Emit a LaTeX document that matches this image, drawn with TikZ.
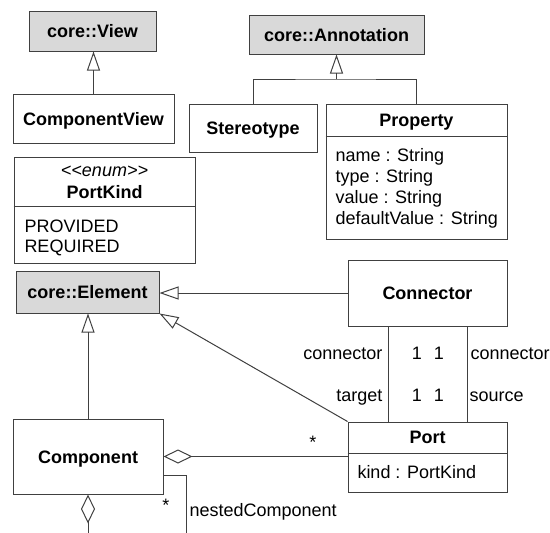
\documentclass[tikz,border=0pt]{standalone}
\usepackage{fontspec}
\setmainfont{Liberation Sans}
\usetikzlibrary{arrows.meta}
\definecolor{coregray}{HTML}{D9D9D9}
\definecolor{linegray}{HTML}{404040}
\newcommand{\umlfont}{\fontsize{18}{21.3}\selectfont}
\tikzset{
	cls/.style={draw=linegray, line width=1pt, fill=white, inner sep=0pt,
		font=\umlfont\bfseries, text height=13pt, text depth=0pt},
	corecls/.style={cls, fill=coregray},
	gen/.style={-{Triangle[open, length=19pt, width=13pt]}},
	agg/.style={{Diamond[open, length=29pt, width=14pt]}-},
	txt/.style={inner sep=0pt, anchor=base, font=\umlfont},
}
\begin{document}
\begin{tikzpicture}[x=1pt, y=-1pt, line width=1pt, draw=linegray, font=\umlfont]
	\useasboundingbox (0,0) rectangle (550,533);
	% Core classes
	\node[corecls, minimum width=127pt, minimum height=40pt] (view) at (92.5,31) {core::View};
	\node[corecls, minimum width=175pt, minimum height=39pt] (annot) at (336.5,34.5) {core::Annotation};
	\node[corecls, minimum width=143pt, minimum height=42pt] (elem) at (87.5,292) {core::Element};
	% Classes
	\node[cls, minimum width=161pt, minimum height=49pt] (cview) at (93.5,118.5) {ComponentView};
	\node[cls, minimum width=128pt, minimum height=48pt] (stereo) at (253,128) {Stereotype};
	\node[cls, minimum width=181pt, minimum height=135pt] (prop) at (416.5,171.5) {};
	\node[cls, minimum width=181pt, minimum height=106pt] (kind) at (104.5,210) {};
	\node[cls, minimum width=159pt, minimum height=66pt] (conn) at (427.5,293) {Connector};
	\node[cls, minimum width=159pt, minimum height=70pt] (port) at (427.5,457) {};
	\node[cls, minimum width=150pt, minimum height=75pt] (comp) at (88,456.5) {Component};
	% Compartments
	\draw (prop.west |- 0,136) -- (prop.east |- 0,136);
	\draw (kind.west |- 0,206) -- (kind.east |- 0,206);
	\draw (port.west |- 0,453) -- (port.east |- 0,453);
	\node[txt, font=\umlfont\bfseries] (proptitle) at (416.5,126.5) {Property};
	\foreach \attr [count=\i] in {name : String, type : String, value : String, defaultValue : String}
		\node[txt, anchor=base west] (propattr\i) at (335,161+21.3*\i-21.3) {\attr};
	\node[txt, font=\umlfont\itshape] (kindstereo) at (104.5,176) {<\kern0pt<enum>\kern0pt>};
	\node[txt, font=\umlfont\bfseries] (kindtitle) at (104.5,198.5) {PortKind};
	\node[txt, anchor=base west] (provided) at (24,232) {PROVIDED};
	\node[txt, anchor=base west] (required) at (24,252.5) {REQUIRED};
	\node[txt, font=\umlfont\bfseries] (porttitle) at (427.5,443.5) {Port};
	\node[txt, anchor=base west] (portattr) at (357,478) {kind : PortKind};
	% Generalizations
	\draw[gen] (cview.north) -- (cview.north |- view.south);
	\coordinate (annotjoin) at (336.5,79);
	\draw (stereo.north) |- (annotjoin) -| (prop.north);
	\draw[gen] (annotjoin) -- (annot.south);
	\draw[gen] (conn.west) -- (conn.west -| elem.east);
	\draw[gen] (port.north west) -- (elem.south east);
	\draw[gen] (comp.north) -- (comp.north |- elem.south);
	% Associations
	\draw[agg] (comp.east) -- (comp.east -| port.west);
	\draw ([xshift=-39.5pt]conn.south) -- ([xshift=-39.5pt]port.north);
	\draw ([xshift=39.5pt]conn.south) -- ([xshift=39.5pt]port.north);
	\coordinate (nestend) at (186,533);
	\coordinate (partend) at (88,533);
	\draw ([yshift=-18.5pt]comp.east) -| (nestend);
	\draw[agg] (comp.south) -- (partend);
	% Roles and multiplicities
	\node[txt, anchor=base east] (tgtrole) at (383,359) {connector};
	\node[txt, anchor=base east] (tgtname) at (383,401) {target};
	\node[txt] (tgtmult) at (417,359) {1};
	\node[txt] (srcmult) at (439,359) {1};
	\node[txt] (tgtportmult) at (417,401) {1};
	\node[txt] (srcportmult) at (439,401) {1};
	\node[txt, anchor=base west] (srcrole) at (470,359) {connector};
	\node[txt, anchor=base west] (srcname) at (469,401) {source};
	\node[txt] (portmult) at (313,448) {*};
	\node[txt] (nestmult) at (166,511) {*};
	\node[txt, anchor=base west] (nestrole) at (189,516) {nestedComponent};
\end{tikzpicture}
\end{document}
